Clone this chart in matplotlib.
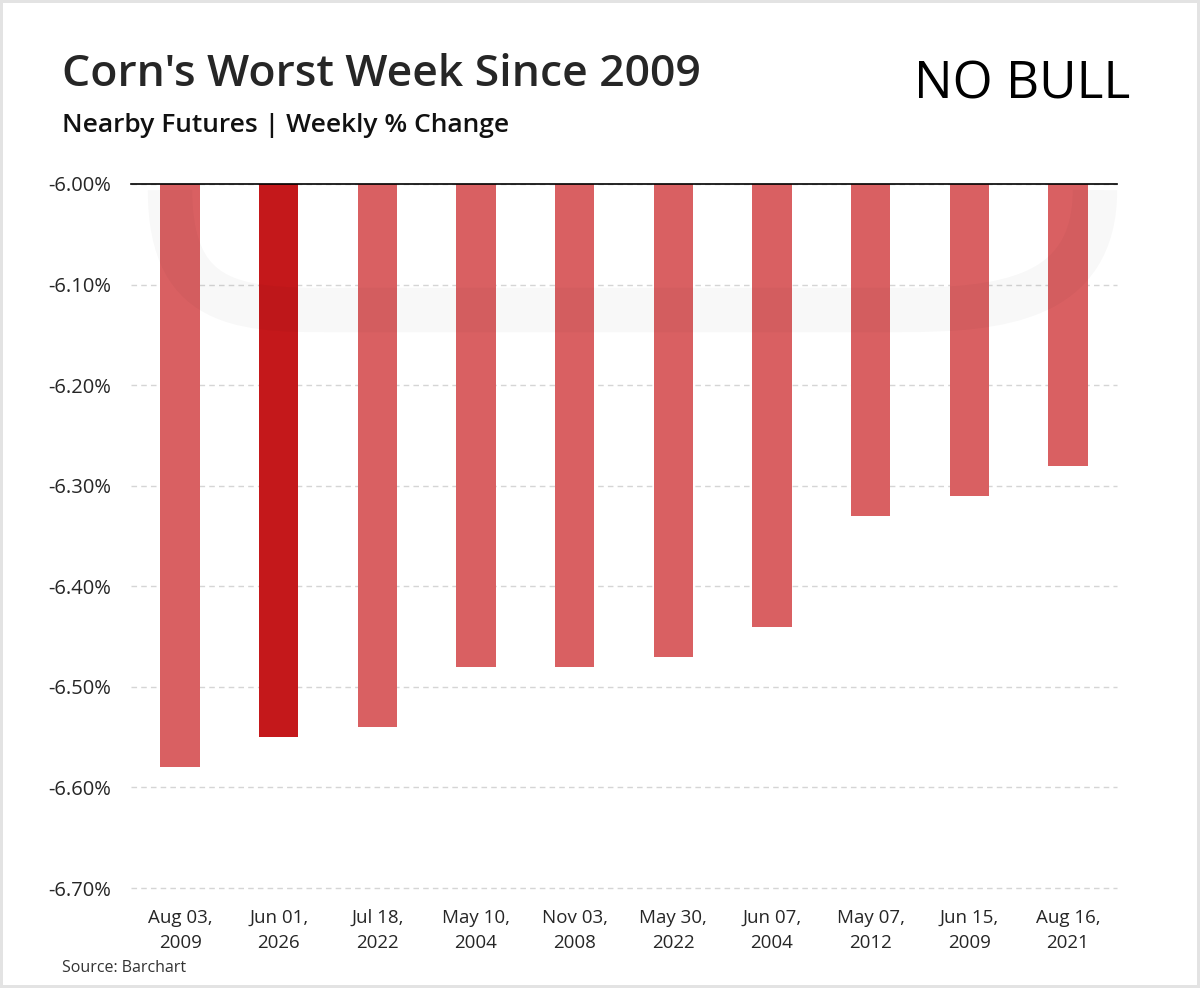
import numpy as np
import matplotlib.pyplot as plt
from matplotlib.path import Path
from matplotlib.patches import PathPatch

plt.rcParams['font.family'] = ['Open Sans', 'DejaVu Sans']

dates = ['Aug 03,\n2009', 'Jun 01,\n2026', 'Jul 18,\n2022', 'May 10,\n2004', 'Nov 03,\n2008',
         'May 30,\n2022', 'Jun 07,\n2004', 'May 07,\n2012', 'Jun 15,\n2009', 'Aug 16,\n2021']
weekly_change = [-6.58, -6.55, -6.54, -6.48, -6.48, -6.47, -6.44, -6.33, -6.31, -6.28]
highlight = 1
base = -6.00
yticks = [-6.0, -6.1, -6.2, -6.3, -6.4, -6.5, -6.6, -6.7]

W, H = 1200, 988
fig = plt.figure(figsize=(W / 100, H / 100), dpi=100)
fig.patch.set_facecolor('white')
fig.patch.set_edgecolor('#e3e3e3')
fig.patch.set_linewidth(3)

ax = fig.add_axes([0.109, 0.1012, 0.822, 0.7126])
x = np.arange(len(dates))
vals = np.array(weekly_change)
colors = ['#c4181b' if i == highlight else '#d96062' for i in range(len(dates))]
ax.bar(x, vals - base, bottom=base, width=0.4, color=colors, zorder=3)

ax.set_xlim(-0.5, len(dates) - 0.5)
ax.set_ylim(-6.70, -6.00)
ax.set_yticks(yticks)
ax.set_yticklabels([f'{v:.2f}%' for v in yticks])
ax.set_xticks(x)
ax.set_xticklabels(dates, linespacing=1.5)
ax.tick_params(axis='both', length=0, colors='#262626')
ax.tick_params(axis='y', pad=14, labelsize=14.5)
ax.tick_params(axis='x', pad=15, labelsize=13.5)
ax.grid(axis='y', linestyle=(0, (4, 3)), color='#d5d5d5', linewidth=1, zorder=0)
for gl in ax.get_ygridlines():
    gl.set_clip_on(False)
for s in ['left', 'right', 'bottom']:
    ax.spines[s].set_visible(False)
ax.spines['top'].set_color('black')
ax.spines['top'].set_linewidth(1.2)
ax.spines['top'].set_zorder(4)

# faint watermark horns
pts = [(170, 190), (170, 315), (250, 310), (350, 310), (900, 310),
       (1000, 310), (1095, 300), (1095, 190)]
codes = [Path.MOVETO, Path.CURVE4, Path.CURVE4, Path.CURVE4, Path.LINETO,
         Path.CURVE4, Path.CURVE4, Path.CURVE4]
wm = Path([(px / W, 1 - py / H) for px, py in pts], codes)
fig.add_artist(PathPatch(wm, transform=fig.transFigure, fill=False, lw=32,
                         edgecolor='black', alpha=0.028, capstyle='butt', zorder=5))

fig.text(0.052, 0.913, "Corn's Worst Week Since 2009", fontsize=32, fontweight='semibold',
         color='#262626', va='baseline')
fig.text(0.052, 0.866, 'Nearby Futures | Weekly % Change', fontsize=19, fontweight='semibold',
         color='#111111', va='baseline')
fig.text(0.052, 0.016, 'Source: Barchart', fontsize=11.5, color='#333333', va='baseline')

# logo
fig.text(0.942, 0.9, 'NO BULL', fontsize=37, color='black', ha='right', va='baseline')

fig.savefig('out.png', dpi=100)
